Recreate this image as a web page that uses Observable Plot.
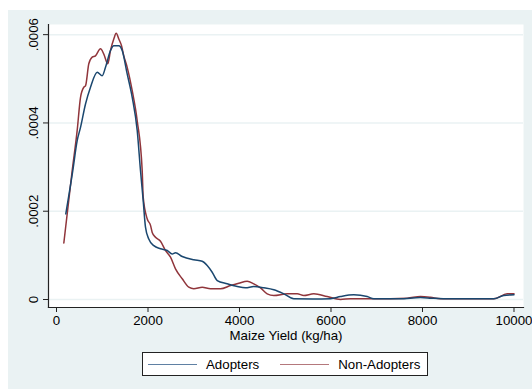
<!DOCTYPE html>
<html>
<head>
<meta charset="utf-8">
<script src="https://cdn.jsdelivr.net/npm/d3@7"></script>
<script src="https://cdn.jsdelivr.net/npm/@observablehq/plot@0.6"></script>
<style>
  html, body { margin: 0; padding: 0; background: #ffffff; width: 532px; height: 389px; overflow: hidden; }
  #bg { position: absolute; left: 8px; top: 10px; width: 524px; height: 379px; background: #EAF2F3; }
  #chart { position: absolute; left: 0; top: 0; }
  #legend { position: absolute; left: 142px; top: 352px; width: 284px; height: 22px; border: 1px solid #222;
    background: #ffffff; display: flex; align-items: center; font-family: "Liberation Sans", Arial, sans-serif; font-size: 13.3px; color: #000; }
  .sw { display: inline-block; width: 49px; height: 0; border-top: 1.2px solid; }
</style>
</head>
<body>
<div id="bg"></div>
<div id="chart"></div>
<div id="legend">
  <span class="sw" style="margin-left:5px;margin-right:9px;border-color:#5f80a3"></span><span>Adopters</span>
  <span class="sw" style="margin-left:21px;margin-right:9px;border-color:#b4787c"></span><span>Non-Adopters</span>
</div>
<script>
// Adopters kernel density
const adoptersX = [203, 356, 452, 525, 634, 743, 890, 999, 1071, 1180, 1252, 1362, 1436, 1545, 1655, 1764, 1836, 1895, 1945, 2017, 2127, 2273, 2420, 2529, 2601, 2748, 3001, 3185, 3294, 3403, 3513, 3731, 3950, 4131, 4313, 4531, 4750, 4968, 5187, 5600, 5989, 6208, 6498, 6791, 6935, 7500, 7956, 8200, 8600, 9200, 9559, 9777, 10000];
const adoptersY = [0.000194, 0.000292, 0.000360, 0.000390, 0.000443, 0.000481, 0.000515, 0.000507, 0.000526, 0.000564, 0.000575, 0.000575, 0.000564, 0.000511, 0.000458, 0.000383, 0.000292, 0.000224, 0.000164, 0.000137, 0.000122, 0.000115, 0.000111, 0.000103, 0.000106, 0.0000974, 0.0000899, 0.0000867, 0.0000770, 0.0000618, 0.0000430, 0.0000355, 0.0000294, 0.0000265, 0.0000294, 0.0000265, 0.0000220, 0.0000129, 0.0000016, 0.0000012, 0.0000020, 0.0000068, 0.0000106, 0.0000068, 0.0000016, 0.0000015, 0.0000045, 0.0000030, 0.0000015, 0.0000015, 0.0000016, 0.0000091, 0.0000106];

// Non-Adopters kernel density
const nonAdoptersX = [160, 343, 452, 525, 597, 634, 706, 780, 852, 962, 1034, 1121, 1180, 1252, 1305, 1362, 1421, 1471, 1545, 1655, 1764, 1873, 1895, 1982, 2055, 2092, 2164, 2273, 2383, 2492, 2601, 2748, 2892, 3001, 3185, 3366, 3585, 3803, 3985, 4168, 4313, 4459, 4605, 4750, 5043, 5261, 5405, 5624, 5917, 6208, 6426, 6935, 7666, 7956, 8175, 8393, 9559, 9851, 10000];
const nonAdoptersY = [0.000128, 0.000292, 0.000383, 0.000458, 0.000481, 0.000484, 0.000534, 0.000549, 0.000552, 0.000568, 0.000556, 0.000534, 0.000564, 0.000590, 0.000603, 0.000590, 0.000575, 0.000552, 0.000526, 0.000473, 0.000405, 0.000292, 0.000232, 0.000183, 0.000168, 0.000152, 0.000141, 0.000132, 0.000111, 0.0000958, 0.0000695, 0.0000469, 0.0000278, 0.0000242, 0.0000278, 0.0000242, 0.0000242, 0.0000317, 0.0000369, 0.0000414, 0.0000355, 0.0000265, 0.0000129, 0.0000091, 0.0000129, 0.0000129, 0.0000091, 0.0000129, 0.0000068, 0.0000002, 0.0000016, 0.0000016, 0.0000030, 0.0000068, 0.0000050, 0.0000016, 0.0000016, 0.0000129, 0.0000129];

const xTicks = [0, 2000, 4000, 6000, 8000, 10000];
const xTickLabels = ["0", "2000", "4000", "6000", "8000", "10000"];
const yTicks = [0, 0.0002, 0.0004, 0.0006];
const yTickLabels = ["0", ".0002", ".0004", ".0006"];
const xTitle = "Maize Yield (kg/ha)";

const series = [
  ...adoptersX.map((x, i) => ({x, y: adoptersY[i], group: "Adopters"})),
  ...nonAdoptersX.map((x, i) => ({x, y: nonAdoptersY[i], group: "Non-Adopters"}))
];

const chart = Plot.plot({
  width: 532,
  height: 345,
  marginLeft: 48,
  marginRight: 9,
  marginTop: 24,
  marginBottom: 38,
  style: {background: "transparent", fontFamily: "'Liberation Sans', Arial, sans-serif", fontSize: "13.3px", color: "#000"},
  x: {domain: [-175, 10208]},
  y: {domain: [-0.0000181, 0.000623]},
  marks: [
    Plot.frame({fill: "#ffffff", stroke: null}),
    Plot.ruleY(yTicks, {stroke: "#EAF2F3", strokeWidth: 1.5}),
    Plot.frame({anchor: "left", stroke: "#222", strokeWidth: 1.2}),
    Plot.frame({anchor: "bottom", stroke: "#222", strokeWidth: 1.2}),
    Plot.axisX({ticks: xTicks, tickFormat: d => xTickLabels[xTicks.indexOf(d)], tickSize: 5, tickPadding: 3, label: null, stroke: "#222", fontSize: 13.3}),
    Plot.axisY({ticks: yTicks, tickFormat: d => yTickLabels[yTicks.indexOf(d)], tickSize: 5, tickRotate: -90, tickPadding: 6, label: null, stroke: "#222", fontSize: 13.3}),
    Plot.text([xTitle], {frameAnchor: "bottom", dy: 28, lineAnchor: "middle", fontSize: 13.3, fill: "#000"}),
    Plot.line(series.filter(d => d.group === "Non-Adopters"), {x: "x", y: "y", stroke: "#90353b", strokeWidth: 1.5, curve: "monotone-x"}),
    Plot.line(series.filter(d => d.group === "Adopters"), {x: "x", y: "y", stroke: "#1a476f", strokeWidth: 1.5, curve: "monotone-x"})
  ]
});
document.getElementById("chart").appendChild(chart);
</script>
</body>
</html>
